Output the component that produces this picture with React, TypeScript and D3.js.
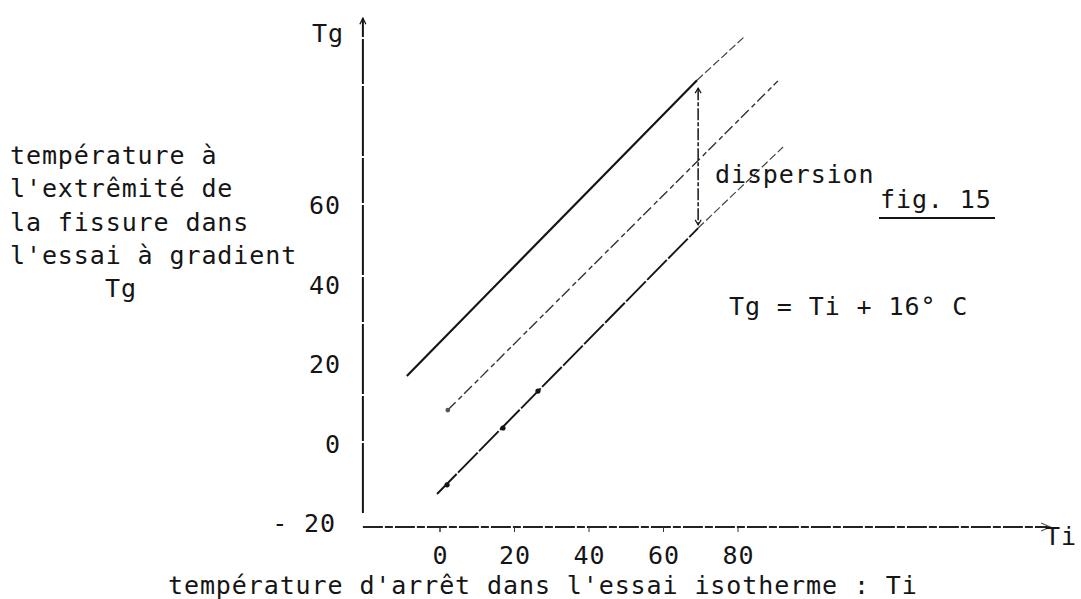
import * as d3 from "d3";

const W = 1081;
const H = 599;

// tick values
const xTicks = [0, 20, 40, 60, 80];
const yTicks = [-20, 0, 20, 40, 60];

// the three parallel lines, [Ti, Tg] end points
const upperLine: [number, number][] = [[-8.9, 17.0], [69.0, 91.4]];
const upperLineTail: [number, number][] = [[69.0, 91.4], [81.9, 102.5]];
const middleLine: [number, number][] = [[2.1, 8.4], [90.7, 91.2]];
const lowerLine: [number, number][] = [[-0.8, -12.7], [69.3, 54.2]];
const lowerLineTail: [number, number][] = [[69.3, 54.2], [92.1, 74.6]];
const lowerPoints: [number, number][] = [[1.9, -10.4], [16.9, 3.9], [26.3, 13.2]];
const middlePoints: [number, number][] = [[2.1, 8.4]];

// dispersion arrow: Ti, and Tg at top / bottom
const dispersionTi = 69.3;
const dispersionTg = [89.4, 55.0];

// where the axes start and stop (data units)
const axisOrigin = [-20.7, -21];
const axisEnd = [163.8, 107];

const yTitleLines = [
  "température à",
  "l'extrêmité de",
  "la fissure dans",
  "l'essai à gradient",
];

const font = "'DejaVu Sans Mono', monospace";
const fs = 25;
const ls = 0.9;
const ink = "#151515";

export default function App() {
  const x = d3.scaleLinear().domain([0, 80]).range([440, 738]);
  const y = d3.scaleLinear().domain([-20, 60]).range([523, 205]);
  const line = d3
    .line<[number, number]>()
    .x((d) => x(d[0]))
    .y((d) => y(d[1]));

  const x0 = x(axisOrigin[0]);
  const y0 = y(axisOrigin[1]);
  const xEnd = x(axisEnd[0]);
  const yTop = y(axisEnd[1]);

  const dx = x(dispersionTi);
  const dTop = y(dispersionTg[0]);
  const dBot = y(dispersionTg[1]);

  const fmt = (v: number) => (v < 0 ? `- ${Math.abs(v)}` : `${v}`);

  const txt = {
    fontFamily: font,
    fontSize: fs,
    letterSpacing: ls,
    fill: ink,
  } as const;

  return (
    <svg
      width={W}
      height={H}
      viewBox={`0 0 ${W} ${H}`}
      style={{ position: "absolute", left: 0, top: 0, background: "#fff" }}
    >
      {/* axes */}
      <line x1={x0} y1={y0 - 14} x2={x0} y2={yTop} stroke={ink} strokeWidth={2} strokeDasharray="70 2 45 2" />
      <path d={`M${x0 - 3},${yTop + 6}L${x0},${yTop}L${x0 + 3},${yTop + 6}`} fill="none" stroke={ink} strokeWidth={1.3} />
      <line x1={x0} y1={y0} x2={xEnd} y2={y0} stroke="#222" strokeWidth={2} strokeDasharray="20 2 8 2" />
      <path d={`M${xEnd - 9},${y0 - 4}L${xEnd},${y0}L${xEnd - 9},${y0 + 4}`} fill="none" stroke="#555" strokeWidth={1.2} />
      {xTicks.map((t) => (
        <line key={t} x1={x(t)} x2={x(t)} y1={y0} y2={y0 + 5} stroke="#333" strokeWidth={t === 0 ? 1.5 : 1} />
      ))}

      {/* tick labels */}
      {xTicks.map((t) => (
        <text key={t} x={x(t) + ls / 2} y={564} textAnchor="middle" {...txt}>
          {t}
        </text>
      ))}
      {yTicks.map((t) => (
        <text key={t} x={t < 0 ? 336 : 341} y={y(t) + 9} textAnchor="end" {...txt}>
          {fmt(t)}
        </text>
      ))}

      {/* the three lines */}
      <path d={line(upperLine) ?? ""} fill="none" stroke={ink} strokeWidth={2.2} />
      <path d={line(upperLineTail) ?? ""} fill="none" stroke="#444" strokeWidth={1.2} strokeDasharray="8 3" />
      <path d={line(middleLine) ?? ""} fill="none" stroke="#333" strokeWidth={1.4} strokeDasharray="11 4 5 3" />
      <path d={line(lowerLine) ?? ""} fill="none" stroke={ink} strokeWidth={1.9} strokeDasharray="28 2" />
      <path d={line(lowerLineTail) ?? ""} fill="none" stroke="#444" strokeWidth={1.2} strokeDasharray="8 3" />
      {lowerPoints.map((p, i) => (
        <circle key={i} cx={x(p[0])} cy={y(p[1])} r={2.6} fill={ink} />
      ))}
      {middlePoints.map((p, i) => (
        <circle key={i} cx={x(p[0])} cy={y(p[1])} r={2.4} fill="#555" />
      ))}

      {/* dispersion arrow */}
      <line x1={dx} x2={dx} y1={dTop} y2={dBot} stroke={ink} strokeWidth={1.5} strokeDasharray="12 2 4 2" />
      <path d={`M${dx - 3},${dTop + 5}L${dx},${dTop}L${dx + 3},${dTop + 5}`} fill="none" stroke={ink} strokeWidth={1.2} />
      <path d={`M${dx - 3},${dBot - 5}L${dx},${dBot}L${dx + 3},${dBot - 5}`} fill="none" stroke={ink} strokeWidth={1.2} />

      {/* axis names */}
      <text x={312} y={42} {...txt}>Tg</text>
      <text x={1045} y={545} {...txt}>Ti</text>
      {yTitleLines.map((s, i) => (
        <text key={i} x={10} y={164 + i * 33.3} {...txt}>
          {s}
        </text>
      ))}
      <text x={105} y={164 + 4 * 33.3} {...txt}>Tg</text>
      <text x={168} y={594} {...txt}>
        température d'arrêt dans l'essai isotherme : Ti
      </text>

      {/* annotations */}
      <text x={715} y={183} {...txt}>dispersion</text>
      <text x={880} y={208} {...txt}>fig. 15</text>
      <line x1={879} x2={995} y1={218} y2={218} stroke={ink} strokeWidth={2} />
      <text x={729} y={315} {...txt}>Tg = Ti + 16° C</text>
    </svg>
  );
}
